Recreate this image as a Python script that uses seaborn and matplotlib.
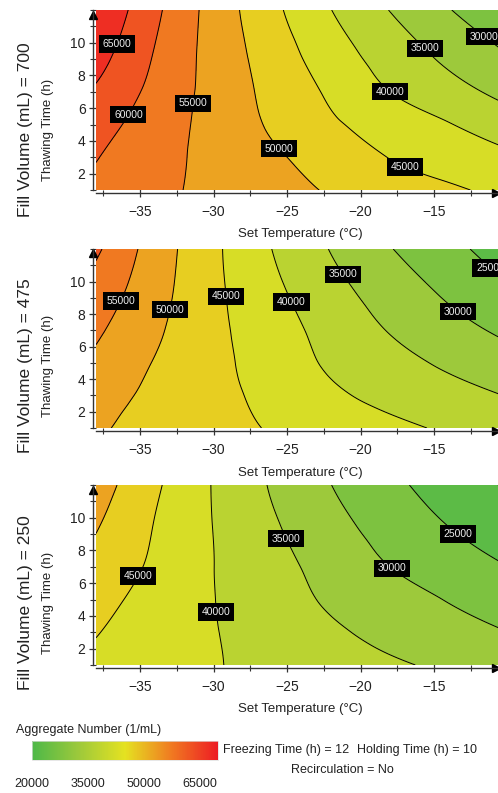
import numpy as np
import matplotlib
matplotlib.use("Agg")
import matplotlib.pyplot as plt
import matplotlib.tri as mtri
import seaborn as sns
from matplotlib.colors import Normalize
from matplotlib.cm import ScalarMappable
from matplotlib.ticker import MultipleLocator
from matplotlib.transforms import offset_copy

# ---------------- data ----------------
set_temp = [-38, -34, -30, -26, -22, -18, -14, -10]          # Set Temperature (°C)
thaw_time = [1, 3, 5, 7, 9.5, 12]                            # Thawing Time (h)
fill_volumes = [700, 475, 250]

# aggregate number (1/mL); rows = thaw_time, columns = set_temp
agg_700 = [
    [59000, 56200, 53820, 51670, 49570, 47640, 45700, 43770],
    [60210, 56790, 53620, 50710, 47770, 44870, 42800, 40800],
    [61900, 57610, 53370, 49370, 45710, 42870, 40220, 37500],
    [64300, 58660, 53370, 48630, 44180, 40000, 36840, 33500],
    [67440, 59830, 53250, 47520, 42140, 37570, 33560, 29730],
    [69900, 61090, 53150, 46220, 40050, 34880, 30230, 25800],
]
agg_475 = [
    [50520, 48550, 46580, 44650, 42880, 41110, 39370, 37800],
    [51800, 49050, 46420, 43610, 40830, 38670, 36760, 34850],
    [53900, 49770, 46300, 42680, 39340, 36680, 34190, 31970],
    [55770, 50820, 46200, 42150, 38260, 34760, 31800, 28990],
    [58100, 51930, 46080, 41080, 36560, 32650, 29040, 25540],
    [60840, 52780, 45970, 39940, 34770, 30230, 26350, 22660],
]
agg_250 = [
    [44000, 42140, 40290, 38730, 37190, 35650, 34170, 32800],
    [45190, 42700, 40220, 37960, 35710, 33740, 31890, 30050],
    [46470, 43310, 40100, 37130, 34350, 32050, 29760, 27690],
    [48200, 44150, 40040, 36550, 33210, 29990, 27530, 25060],
    [50380, 44820, 39910, 35590, 31550, 28080, 24950, 22290],
    [52400, 45810, 39740, 34550, 30030, 26190, 22700, 19500],
]
contour_levels = [20000, 25000, 30000, 35000, 40000, 45000, 50000, 55000, 60000, 65000, 70000]
cbar_ticks = [20000, 35000, 50000, 65000]
x_ticks = [-35, -30, -25, -20, -15]
y_ticks = [2, 4, 6, 8, 10]

# contour-label anchor points (T, t) per panel
label_pos = [
    [(-36.5, 9.9), (-35.6, 5.5), (-31.3, 6.3), (-25.5, 3.55), (-17.0, 2.4),
     (-18.0, 7.0), (-15.7, 9.6), (-11.65, 10.3)],
    [(-36.25, 8.77), (-32.85, 8.26), (-29.22, 9.08), (-24.8, 8.7), (-21.3, 10.4),
     (-13.46, 8.05), (-11.2, 10.8)],
    [(-35.0, 6.38), (-29.84, 4.24), (-25.14, 8.67), (-17.9, 6.9), (-13.47, 8.9)],
]

# ---------------- style ----------------
sns.set_style("ticks")
plt.rcParams["font.family"] = ["Liberation Sans", "DejaVu Sans"]
cmap = sns.blend_palette(["#4DB848", "#9DC93B", "#E5E221", "#F07A21", "#ED1C24"], as_cmap=True)
norm = Normalize(vmin=20000, vmax=70000)

W, H = 498, 793
fig = plt.figure(figsize=(W / 100, H / 100), dpi=100)

panel_px = [(10, 190), (249, 428), (485, 665)]   # top, bottom pixel rows
ax_left_px = 96
xlabel_y_px = [234, 473, 709]
side_y_px = [130, 366, 603]

X, Y = np.meshgrid(set_temp, thaw_time)
tri = mtri.Triangulation(X.ravel().astype(float), Y.ravel().astype(float))
refiner = mtri.UniformTriRefiner(tri)

for i, (vol, data) in enumerate(zip(fill_volumes, [agg_700, agg_475, agg_250])):
    top, bot = panel_px[i]
    ax = fig.add_axes([ax_left_px / W, 1 - bot / H, 1 - ax_left_px / W, (bot - top) / H])
    zz = np.asarray(data, float).ravel()
    interp = mtri.CubicTriInterpolator(tri, zz, kind="min_E")
    tri_r, z_r = refiner.refine_field(zz, triinterpolator=interp, subdiv=4)
    ax.tricontourf(tri_r, z_r, levels=contour_levels, cmap=cmap, norm=norm, extend="both")
    cs = ax.tricontour(tri_r, z_r, levels=contour_levels, colors="black", linewidths=0.7)
    texts = ax.clabel(cs, manual=label_pos[i], inline=False, fmt=lambda v: f"{v:.0f}",
                      fontsize=7.5, colors="#EEEEEE")
    for t in texts:
        t.set_rotation(0)
        t.set_bbox(dict(boxstyle="square,pad=0.35", fc="black", ec="none"))
        t.set_zorder(10)
    ax.set_xlim(-38, -10.65)
    ax.set_ylim(1, 12)
    ax.set_xticks(x_ticks)
    ax.set_yticks(y_ticks)
    ax.xaxis.set_minor_locator(MultipleLocator(2.5))
    ax.yaxis.set_minor_locator(MultipleLocator(1))
    for s in ["top", "right"]:
        ax.spines[s].set_visible(False)
    for s in ["left", "bottom"]:
        ax.spines[s].set_position(("outward", 2.5))
        ax.spines[s].set_color("#333333")
        ax.spines[s].set_linewidth(1.0)
    ax.tick_params(which="major", direction="inout", length=6, width=0.9, color="#333333",
                   labelsize=10, labelcolor="#222222")
    ax.tick_params(which="minor", direction="inout", length=4, width=0.8, color="#333333")
    ax.tick_params(axis="x", which="major", pad=5)
    ax.tick_params(axis="y", which="major", pad=2)
    # axis arrows
    ty = offset_copy(ax.transAxes, fig=fig, x=-2.5, y=0, units="points")
    ax.plot([0], [0.975], marker="^", ms=6, color="black", transform=ty, clip_on=False)
    tx = offset_copy(ax.transAxes, fig=fig, x=0, y=-2.5, units="points")
    ax.plot([0.995], [0], marker=">", ms=6, color="black", transform=tx, clip_on=False)

    fig.text(0.604, 1 - xlabel_y_px[i] / H, "Set Temperature (°C)", ha="center", va="center",
             fontsize=9.5, color="#222222")
    fig.text(48 / W, 1 - side_y_px[i] / H, "Thawing Time (h)", rotation=90, ha="center",
             va="center", fontsize=9.5, color="#222222")
    fig.text(26 / W, 1 - side_y_px[i] / H, f"Fill Volume (mL) = {vol}", rotation=90,
             ha="center", va="center", fontsize=12.5, color="#222222")

# ---------------- colour legend ----------------
cax = fig.add_axes([32 / W, 1 - 760 / H, 186 / W, 19 / H])
cb = fig.colorbar(ScalarMappable(norm=norm, cmap=cmap), cax=cax, orientation="horizontal")
cb.set_ticks(cbar_ticks)
cb.set_ticklabels([str(v) for v in cbar_ticks])
cax.tick_params(length=0, pad=13, labelsize=9, labelcolor="#222222")
cb.outline.set_linewidth(0.5)
cb.outline.set_edgecolor("#dddddd")

fig.text(16 / W, 1 - 730 / H, "Aggregate Number (1/mL)", ha="left", va="center",
         fontsize=9, color="#222222")
fig.text(223 / W, 1 - 750 / H, "Freezing Time (h) = 12", ha="left", va="center",
         fontsize=9, color="#222222")
fig.text(357 / W, 1 - 750 / H, "Holding Time (h) = 10", ha="left", va="center",
         fontsize=9, color="#222222")
fig.text(342 / W, 1 - 770 / H, "Recirculation = No", ha="center", va="center",
         fontsize=9, color="#222222")

fig.savefig("out.png", dpi=100)
